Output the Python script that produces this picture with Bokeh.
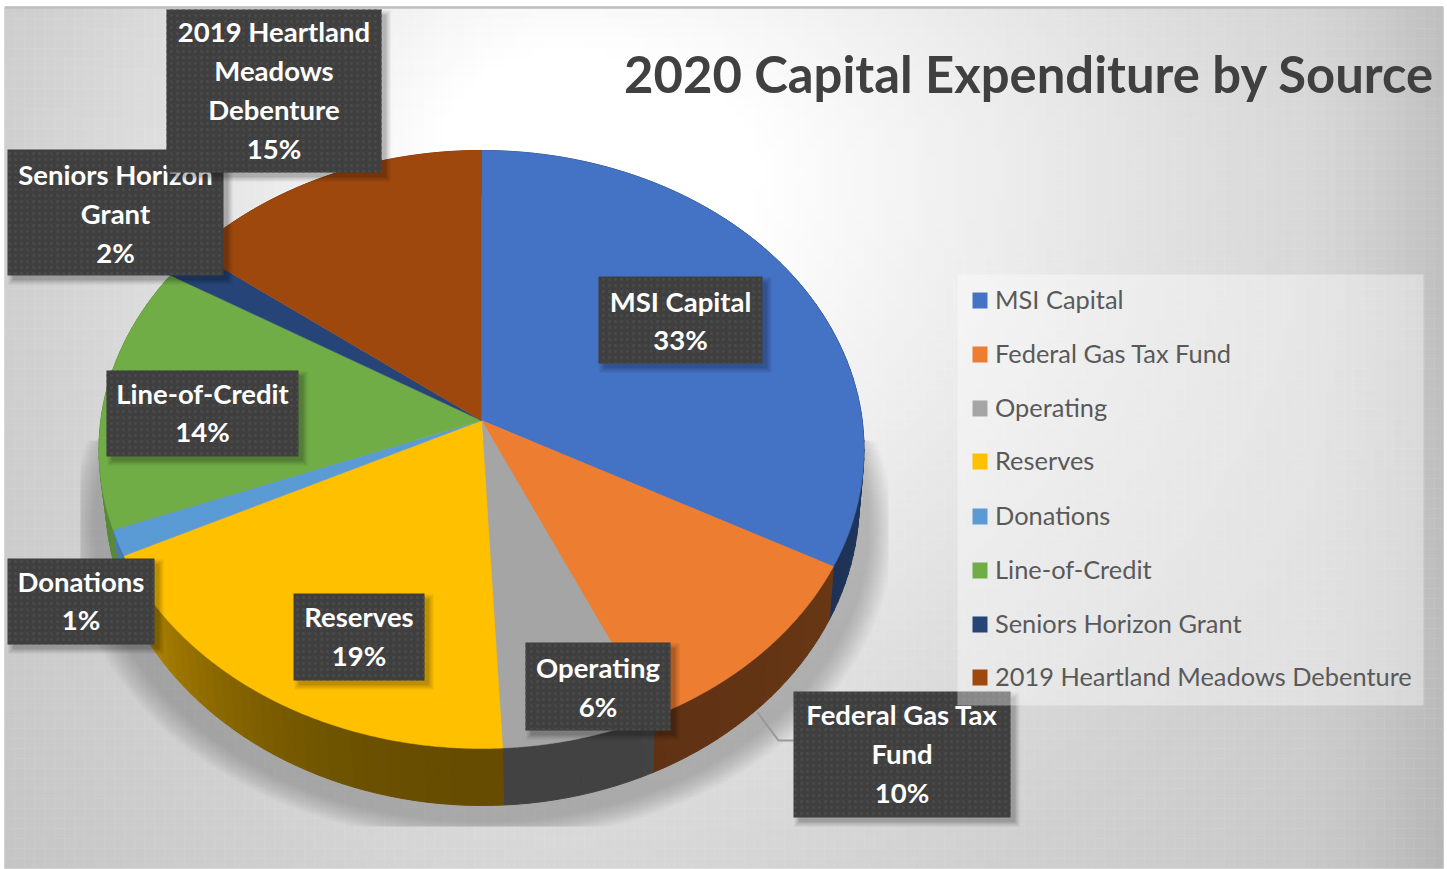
import numpy as np
from bokeh.plotting import figure
from bokeh.models import Range1d, ColumnDataSource
from bokeh.core.properties import value
from bokeh.embed import file_html
from bokeh.resources import INLINE

# ---- data
categories = ["MSI Capital", "Federal Gas Tax Fund", "Operating", "Reserves", "Donations",
              "Line-of-Credit", "Seniors Horizon Grant", "2019 Heartland Meadows Debenture"]
shares = [32.8, 10.4, 6.0, 18.6, 1.4, 14.4, 1.7, 14.7]
percent_labels = ["33%", "10%", "6%", "19%", "1%", "14%", "2%", "15%"]
colors = ["#4472C4", "#ED7D31", "#A5A5A5", "#FFC000", "#5B9BD5", "#70AD47", "#264478", "#9E480E"]
label_lines = [["MSI Capital"], ["Federal Gas Tax", "Fund"], ["Operating"], ["Reserves"], ["Donations"],
               ["Line-of-Credit"], ["Seniors Horizon", "Grant"], ["2019 Heartland", "Meadows", "Debenture"]]
title = "2020 Capital Expenditure by Source"

# ---- layout (page pixels)
label_boxes = [(598, 276, 762, 363), (793, 691, 1010, 817), (525, 642, 670, 730), (293, 593, 424, 680),
               (7, 558, 154, 644), (106, 370, 298, 456), (7, 149, 223, 275), (166, 9, 381, 172)]
label_dy = [1.5, 0, 1.5, 0, 0, 0, 2, 0]
legend_rows = [300, 354, 408, 461, 516, 570, 624, 677]
W, H = 1447, 869
APEX = (481.0, 420.0)
ELL = (481.0, 449.0, 382.5, 299.0)
DEPTH_C, DEPTH_RX, DEPTH_RY = 51.0, 0.985, 305.0 / 299.0

p = figure(width=W, height=H, x_range=Range1d(0, W), y_range=Range1d(H, 0),
           output_backend="svg", toolbar_location=None, min_border=0,
           x_axis_location=None, y_axis_location=None, outline_line_color=None)
p.grid.visible = False
p.background_fill_color = "white"

# ---- gradient background
STEP = 10
ex = np.arange(4, 1443 + STEP, STEP).clip(max=1443)
ey = np.arange(8, 868 + STEP, STEP).clip(max=868)
gx, gy = np.meshgrid((ex[:-1] + ex[1:]) / 2, (ey[:-1] + ey[1:]) / 2)
sx = np.where(gx < 560, 620.0, 1000.0)
sy = np.where(gy < 170, 600.0, 900.0)
d = np.sqrt(((gx - 560) / sx) ** 2 + ((gy - 170) / sy) ** 2)
g = np.interp(d, [0, .2, .37, .65, .88, 1.1, 1.4], [255, 255, 242, 222, 208, 200, 190])
g = g - 15 * np.clip((gx - 1300) / 140, 0, 1) ** 1.5
gc = ["#%02x%02x%02x" % (int(c), int(c), int(c)) for c in g.ravel()]
lf, tp = np.meshgrid(ex[:-1], ey[:-1])
rt, bt = np.meshgrid(ex[1:], ey[1:])
p.quad(left=lf.ravel(), right=rt.ravel(), top=tp.ravel(), bottom=bt.ravel(),
       fill_color=gc, line_color=gc, line_width=0.5)
p.line([4, 1443], [7, 7], line_color="#bdbdbd", line_width=2.5)

# ---- pie geometry
def rim(theta):
    """screen point of circle angle theta (clockwise from top) on the tilted top ellipse"""
    cx, cy, rx, ry = ELL
    c = (cy - APEX[1]) / ry
    k = -c
    a = rx * np.sqrt(1 - k ** 2)
    X, Y = np.sin(theta), np.cos(theta)
    den = 1 - k * Y
    return cx + X * a / den, cy - (Y * ry + c * ry) / den

def rim_low(theta):
    x, y = rim(theta)
    return ELL[0] + 1 + (x - ELL[0]) * DEPTH_RX, ELL[1] + DEPTH_C + (y - ELL[1]) * DEPTH_RY

def hex_shade(col, f):
    r, g_, b = int(col[1:3], 16), int(col[3:5], 16), int(col[5:7], 16)
    return "#%02x%02x%02x" % (int(r * f), int(g_ * f), int(b * f))

edges = np.concatenate([[0], np.cumsum(shares)]) / np.sum(shares) * 2 * np.pi

# ---- soft shadow under the pie
for i in range(14):
    t = i / 13
    rx, ry, cy = 412 - 24 * t, 312 - 16 * t, 530 - 4 * t
    a = np.linspace(0, 2 * np.pi, 200)
    sxs = np.clip(481 + rx * np.cos(a), 80, 888)
    sys_ = np.clip(cy + ry * np.sin(a), 440, 826)
    p.patch(sxs, sys_, fill_color="black", fill_alpha=0.014, line_color=None)

# ---- side wall, drawn as shaded strips
wx, wy, wc = [], [], []
for i, col in enumerate(colors):
    n = max(3, int((edges[i + 1] - edges[i]) / 0.03))
    th = np.linspace(edges[i], edges[i + 1], n + 1)
    for a0, a1 in zip(th[:-1], th[1:]):
        tm = np.degrees((a0 + a1) / 2)
        if tm < 180:
            f = 0.40 + 0.04 * ((180 - tm) / 60) ** 2
        else:
            f = 0.40 + 0.32 * ((tm - 180) / 60) ** 2
        f = min(f, 0.8)
        aa = np.array([a0, a1])
        x1, y1 = rim(aa)
        x2, y2 = rim_low(aa)
        wx.append([x1[0], x1[1], x2[1], x2[0]])
        wy.append([y1[0], y1[1], y2[1], y2[0]])
        wc.append(hex_shade(col, f))
p.patches("x", "y", source=ColumnDataSource(dict(x=wx, y=wy, c=wc)), fill_color="c", line_color="c", line_width=1)

# ---- top surface
tx, ty = [], []
for i in range(len(shares)):
    th = np.linspace(edges[i], edges[i + 1], 120)
    x, y = rim(th)
    tx.append([APEX[0], *x])
    ty.append([APEX[1], *y])
p.patches("x", "y", source=ColumnDataSource(dict(x=tx, y=ty, c=colors)), fill_color="c", line_color="c", line_width=0.5)

# ---- leader line
p.line([757, 778, 793], [712, 740, 740], line_color="#999999", line_width=2)

# ---- title
p.text(x=[1434], y=[73], text=[title], text_font=value("Lato"), text_font_style="bold", text_font_size="50.8px",
       text_color="#404040", text_align="right", text_baseline="middle")

# ---- data labels
for i in [0, 2, 3, 5, 4, 1, 6, 7]:
    l, t, r, b = label_boxes[i]
    for grow, alpha in [(7, .07), (5, .09), (3, .12)]:
        p.quad(left=l + 5 - grow + 3, right=r + 5 + grow - 3, top=t + 5 - grow + 3, bottom=b + 5 + grow - 3,
               fill_color="black", fill_alpha=alpha, line_color=None)
    p.quad(left=l, right=r, top=t, bottom=b, fill_color="#3f3f3f", line_color=None,
           hatch_pattern="dot", hatch_color="#4a4a4a", hatch_scale=6, hatch_weight=1)
    lines = label_lines[i] + [percent_labels[i]]
    cy = (t + b) / 2 - 1 + label_dy[i]
    ys = [cy + (j - (len(lines) - 1) / 2) * 38.8 for j in range(len(lines))]
    xs = [(l + r) / 2] * len(lines)
    p.text(x=xs, y=ys, text=lines, text_font=value("Lato"), text_font_style="bold", text_font_size="27.5px",
           text_color="white", text_align="center", text_baseline="middle")

# ---- legend
p.quad(left=957, right=1423, top=274, bottom=705, fill_color="white", fill_alpha=0.38, line_color=None)
p.rect(x=[979.5] * 8, y=legend_rows, width=15, height=16, fill_color=colors, line_color=None)
p.text(x=[994.5] * 8, y=[r - 1.5 for r in legend_rows], text=categories, text_font=value("Lato"), text_font_size="25.4px",
       text_color="#595959", text_align="left", text_baseline="middle")

open("out.html", "w").write(file_html(p, INLINE))
